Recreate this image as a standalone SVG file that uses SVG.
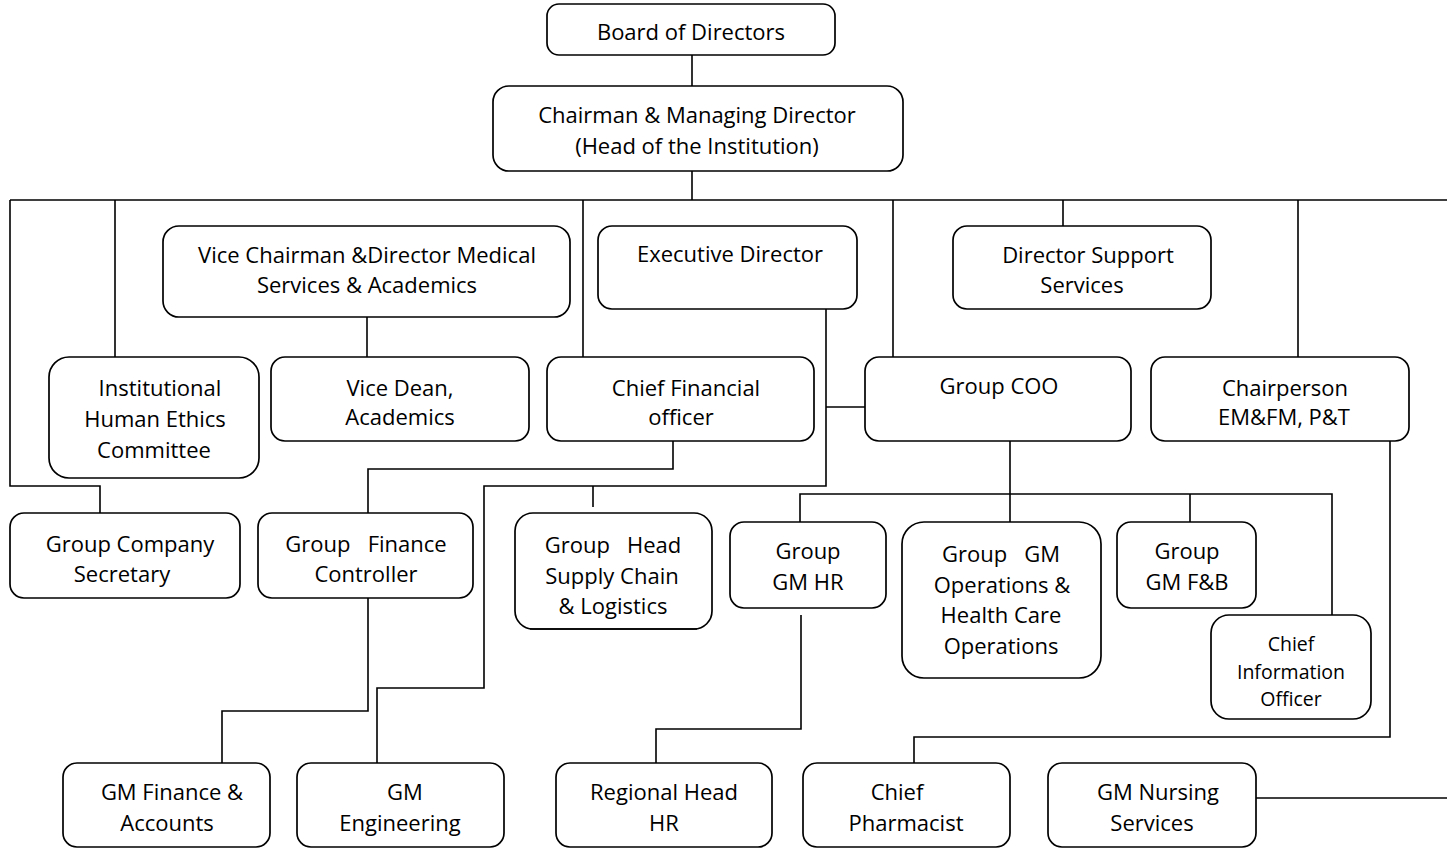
<svg xmlns="http://www.w3.org/2000/svg" width="1447" height="848" viewBox="0 0 1447 848">
<style>
.b{fill:#fff;stroke:#000;stroke-width:1.7}
.c{fill:none;stroke:#000;stroke-width:1.6}
text{font-family:"Open Sans","Liberation Sans",sans-serif;font-size:22px;fill:#000;text-anchor:middle;white-space:pre}
.s{font-size:19.5px}
</style>
<defs>
<clipPath id="clipSC"><rect x="514" y="512" width="200" height="117"/></clipPath>
</defs>
<rect width="1447" height="848" fill="#fff"/>
<g id="connectors">
<path class="c" d="M692,55V86M692,171V200M10,200H1447"/>
<path class="c" d="M10,200V486H100V513"/>
<path class="c" d="M115,200V357M583,200V357M893,200V357M1063,200V226M1298,200V357"/>
<path class="c" d="M367,317V357"/>
<path class="c" d="M826,309V486H484V688H377V763"/>
<path class="c" d="M826,407H865"/>
<path class="c" d="M593,486V507"/>
<path class="c" d="M673,441V469H368V513"/>
<path class="c" d="M368,598V711H222V763"/>
<path class="c" d="M1010,441V522M800,522V494H1332V615M1190,494V522"/>
<path class="c" d="M801,615V729H656V763"/>
<path class="c" d="M1390,441V737H914V763"/>
<path class="c" d="M1256,798H1447"/>
</g>
<g id="board"><rect class="b" x="547" y="4" width="288" height="51" rx="12"/><text x="691" y="40">Board of Directors</text></g>
<g id="chairman"><rect class="b" x="493" y="86" width="410" height="85" rx="16"/><text x="697" y="123">Chairman &amp; Managing Director</text><text x="697" y="154">(Head of the Institution)</text></g>
<g id="vice-chairman"><rect class="b" x="163" y="226" width="407" height="91" rx="16"/><text x="367" y="263">Vice Chairman &amp;Director Medical</text><text x="367" y="293">Services &amp; Academics</text></g>
<g id="executive-director"><rect class="b" x="598" y="226" width="259" height="83" rx="14"/><text x="730" y="262">Executive Director</text></g>
<g id="director-support"><rect class="b" x="953" y="226" width="258" height="83" rx="14"/><text x="1088" y="263">Director Support</text><text x="1082" y="293">Services</text></g>
<g id="ihec"><rect class="b" x="49" y="357" width="210" height="121" rx="20"/><text x="160" y="396">Institutional</text><text x="155" y="427">Human Ethics</text><text x="154" y="458">Committee</text></g>
<g id="vice-dean"><rect class="b" x="271" y="357" width="258" height="84" rx="14"/><text x="400" y="396">Vice Dean,</text><text x="400" y="425">Academics</text></g>
<g id="cfo"><rect class="b" x="547" y="357" width="267" height="84" rx="14"/><text x="686" y="396">Chief Financial</text><text x="681" y="425">officer</text></g>
<g id="group-coo"><rect class="b" x="865" y="357" width="266" height="84" rx="14"/><text x="999" y="394">Group COO</text></g>
<g id="chairperson"><rect class="b" x="1151" y="357" width="258" height="84" rx="14"/><text x="1285" y="396">Chairperson</text><text x="1284" y="425">EM&amp;FM, P&amp;T</text></g>
<g id="company-secretary"><rect class="b" x="10" y="513" width="230" height="85" rx="14"/><text x="130" y="552">Group Company</text><text x="122" y="582">Secretary</text></g>
<g id="finance-controller"><rect class="b" x="258" y="513" width="215" height="85" rx="14"/><text x="366" y="552">Group   Finance</text><text x="366" y="582">Controller</text></g>
<g id="supply-chain"><rect class="b" x="515" y="513" width="197" height="116" rx="18"/><g clip-path="url(#clipSC)"><text x="613" y="553">Group   Head</text><text x="612" y="584">Supply Chain</text><text x="613" y="614">&amp; Logistics</text></g><path d="M530,629H697" stroke="#000" stroke-width="1.7"/></g>
<g id="gm-hr"><rect class="b" x="730" y="522" width="156" height="86" rx="14"/><text x="808" y="559">Group</text><text x="808" y="590">GM HR</text></g>
<g id="gm-ops"><rect class="b" x="902" y="522" width="199" height="156" rx="22"/><text x="1001" y="562">Group   GM</text><text x="1002" y="593">Operations &amp;</text><text x="1001" y="623">Health Care</text><text x="1001" y="654">Operations</text></g>
<g id="gm-fb"><rect class="b" x="1117" y="522" width="139" height="86" rx="14"/><text x="1187" y="559">Group</text><text x="1187" y="590">GM F&amp;B</text></g>
<g id="cio"><rect class="b" x="1211" y="615" width="160" height="104" rx="18"/><text class="s" x="1291" y="651">Chief</text><text class="s" x="1291" y="679">Information</text><text class="s" x="1291" y="706">Officer</text></g>
<g id="gm-finance-accounts"><rect class="b" x="63" y="763" width="207" height="84" rx="14"/><text x="172" y="800">GM Finance &amp;</text><text x="167" y="831">Accounts</text></g>
<g id="gm-engineering"><rect class="b" x="297" y="763" width="207" height="84" rx="14"/><text x="405" y="800">GM</text><text x="400" y="831">Engineering</text></g>
<g id="regional-head-hr"><rect class="b" x="556" y="763" width="216" height="84" rx="14"/><text x="664" y="800">Regional Head</text><text x="664" y="831">HR</text></g>
<g id="chief-pharmacist"><rect class="b" x="803" y="763" width="207" height="84" rx="14"/><text x="897" y="800">Chief</text><text x="906" y="831">Pharmacist</text></g>
<g id="gm-nursing"><rect class="b" x="1048" y="763" width="208" height="84" rx="14"/><text x="1158" y="800">GM Nursing</text><text x="1152" y="831">Services</text></g>
</svg>
